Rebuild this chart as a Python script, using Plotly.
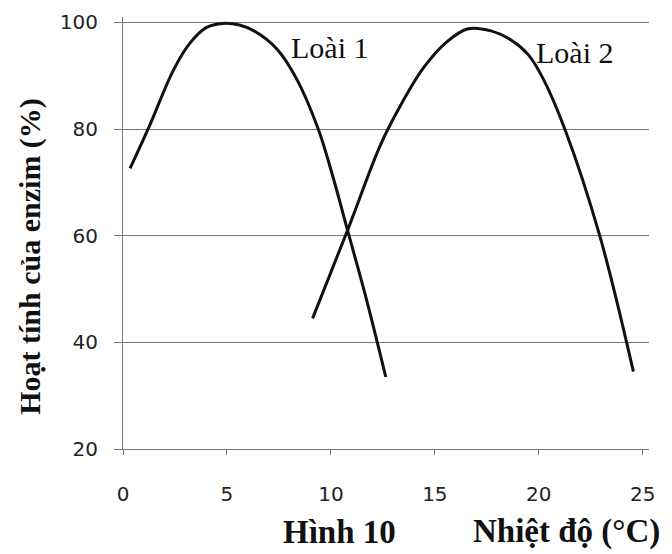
import plotly.graph_objects as go

# Data
species1_name = "Loài 1"
species1_x = [0.34, 1.22, 2.42, 3.2, 4.0, 4.8, 5.6, 6.3, 7.4, 8.35, 9.39, 10.1, 10.83, 11.7, 12.64]
species1_y = [72.6, 80.1, 91.0, 96.0, 99.0, 99.8, 99.5, 98.4, 95.0, 89.4, 80.0, 71.0, 60.6, 48.2, 33.5]

species2_name = "Loài 2"
species2_x = [9.12, 10.83, 12.36, 13.32, 14.44, 15.56, 16.6, 17.7, 18.7, 19.5, 20.2, 21.25, 22.93, 24.55]
species2_y = [44.5, 61.3, 76.8, 84.2, 91.4, 96.3, 98.8, 98.4, 96.6, 93.9, 89.5, 80.0, 60.0, 34.5]

x_ticks = [0, 5, 10, 15, 20, 25]
y_ticks = [20, 40, 60, 80, 100]

y_title = "Hoạt tính của enzim (%)"
x_title = "Nhiệt độ (°C)"
fig_label = "Hình 10"

serif = "Liberation Serif, Times New Roman, serif"
sans = "DejaVu Sans, sans-serif"
grid_col = "#777777"

fig = go.Figure()
for xs, ys in [(species1_x, species1_y), (species2_x, species2_y)]:
    fig.add_trace(go.Scatter(x=xs, y=ys, mode="lines",
                             line=dict(color="#111111", width=3, shape="spline", smoothing=1.0),
                             showlegend=False, hoverinfo="skip"))

fig.add_annotation(x=9.95, y=95.3, text=species1_name, showarrow=False,
                   xanchor="center", yanchor="middle",
                   font=dict(family=serif, size=30, color="#111"))
fig.add_annotation(x=21.7, y=94.4, text=species2_name, showarrow=False,
                   xanchor="center", yanchor="middle",
                   font=dict(family=serif, size=30, color="#111"))

fig.add_annotation(xref="paper", yref="paper", x=-0.177, y=0.447, text="<b>%s</b>" % y_title,
                   showarrow=False, textangle=-90, xanchor="center", yanchor="middle",
                   font=dict(family=serif, size=30, color="#111"))
fig.add_annotation(xref="x", yref="paper", x=10.4, y=-0.192, text="<b>%s</b>" % fig_label,
                   showarrow=False, xanchor="center", yanchor="middle",
                   font=dict(family=serif, size=33, color="#111"))
fig.add_annotation(xref="x", yref="paper", x=21.35, y=-0.192, text="<b>%s</b>" % x_title,
                   showarrow=False, xanchor="center", yanchor="middle",
                   font=dict(family=serif, size=33, color="#111"))

fig.update_xaxes(range=[0, 25.3], tickvals=x_ticks, showgrid=False, zeroline=False,
                 showline=True, linecolor=grid_col, linewidth=1,
                 ticks="outside", ticklen=5, tickcolor=grid_col,
                 ticklabelstandoff=22, automargin=False,
                 tickfont=dict(family=sans, size=20, color="#222"))
fig.update_yaxes(range=[20, 101], tickvals=y_ticks, showgrid=True, gridcolor=grid_col, gridwidth=1,
                 zeroline=False, showline=True, linecolor=grid_col, linewidth=1,
                 ticks="outside", ticklen=8, tickcolor=grid_col,
                 ticklabelstandoff=12, automargin=False,
                 tickfont=dict(family=sans, size=20, color="#222"))

fig.update_layout(width=664, height=546,
                  margin=dict(l=115, r=23, t=9, b=105),
                  plot_bgcolor="white", paper_bgcolor="white")

fig.write_html("out.html")
